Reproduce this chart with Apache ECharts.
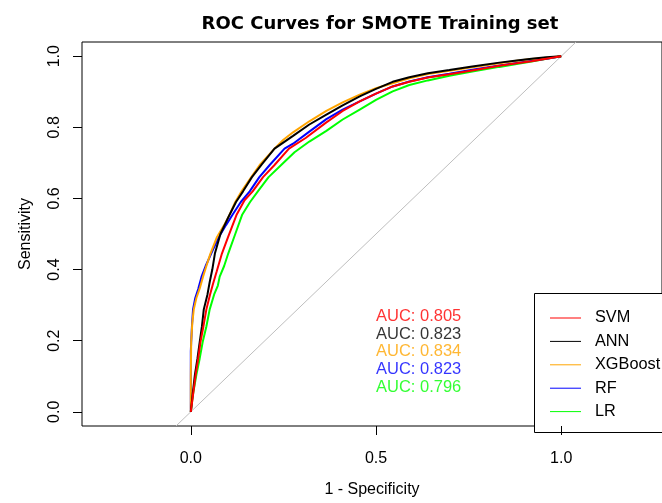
<!DOCTYPE html>
<html>
<head>
<meta charset="utf-8">
<script src="https://cdn.jsdelivr.net/npm/echarts@6/dist/echarts.min.js"></script>
<style>
html,body{margin:0;padding:0;background:#fff;}
#chart{width:662px;height:503px;}
</style>
</head>
<body>
<div id="chart"></div>
<script>
// ---- data (1 - specificity, sensitivity) ----
var modelNames = ['SVM', 'ANN', 'XGBoost', 'RF', 'LR'];
var modelColors = ['#ff0000', '#000000', '#ffa500', '#0000ff', '#00ff00'];
var aucValues = [0.805, 0.823, 0.834, 0.823, 0.796];

var rocSVM = [[0,0],[0.005,0.04],[0.013,0.104],[0.02,0.15],[0.026,0.196],[0.034,0.24],[0.042,0.288],[0.052,0.33],[0.06,0.36],[0.07,0.395],[0.084,0.445],[0.1,0.49],[0.124,0.555],[0.145,0.595],[0.167,0.62],[0.195,0.66],[0.226,0.694],[0.265,0.74],[0.31,0.77],[0.366,0.814],[0.41,0.846],[0.456,0.873],[0.5,0.895],[0.545,0.915],[0.59,0.928],[0.64,0.94],[0.698,0.949],[0.76,0.96],[0.833,0.973],[0.88,0.98],[0.92,0.986],[0.96,0.993],[1,1]];
var rocANN = [[0,0],[0.005,0.05],[0.011,0.104],[0.018,0.15],[0.024,0.196],[0.03,0.24],[0.035,0.288],[0.045,0.33],[0.051,0.365],[0.058,0.4],[0.065,0.445],[0.08,0.5],[0.105,0.555],[0.122,0.59],[0.141,0.62],[0.165,0.66],[0.19,0.694],[0.226,0.74],[0.276,0.776],[0.32,0.808],[0.366,0.836],[0.41,0.862],[0.456,0.887],[0.5,0.908],[0.545,0.928],[0.59,0.941],[0.64,0.952],[0.698,0.961],[0.76,0.971],[0.833,0.982],[0.88,0.988],[0.92,0.993],[0.96,0.997],[1,1]];
var rocXGB = [[0,0],[0,0.1],[0.001,0.196],[0.004,0.25],[0.008,0.288],[0.015,0.32],[0.025,0.35],[0.033,0.38],[0.042,0.41],[0.053,0.445],[0.07,0.49],[0.09,0.525],[0.105,0.555],[0.12,0.59],[0.137,0.62],[0.16,0.655],[0.186,0.694],[0.226,0.74],[0.25,0.765],[0.276,0.786],[0.32,0.817],[0.366,0.846],[0.41,0.87],[0.456,0.892],[0.5,0.91],[0.545,0.924],[0.59,0.938],[0.64,0.95],[0.698,0.959],[0.76,0.969],[0.833,0.98],[0.88,0.987],[0.92,0.992],[0.96,0.996],[1,1]];
var rocRF = [[0,0],[0,0.17],[0.001,0.196],[0.003,0.24],[0.006,0.288],[0.012,0.32],[0.02,0.345],[0.029,0.38],[0.04,0.41],[0.055,0.445],[0.075,0.49],[0.095,0.525],[0.113,0.555],[0.135,0.59],[0.159,0.62],[0.185,0.66],[0.213,0.694],[0.253,0.74],[0.276,0.754],[0.32,0.788],[0.366,0.823],[0.41,0.85],[0.456,0.873],[0.5,0.895],[0.545,0.915],[0.59,0.929],[0.64,0.941],[0.698,0.951],[0.76,0.962],[0.833,0.974],[0.88,0.981],[0.92,0.987],[0.96,0.993],[1,1]];
var rocLR = [[0,0],[0.006,0.05],[0.015,0.104],[0.024,0.15],[0.032,0.196],[0.042,0.24],[0.051,0.288],[0.063,0.33],[0.073,0.355],[0.078,0.38],[0.09,0.41],[0.101,0.445],[0.12,0.5],[0.139,0.555],[0.16,0.59],[0.181,0.62],[0.21,0.66],[0.244,0.694],[0.28,0.73],[0.32,0.76],[0.366,0.79],[0.41,0.822],[0.456,0.85],[0.5,0.877],[0.545,0.901],[0.59,0.919],[0.64,0.932],[0.698,0.945],[0.76,0.957],[0.833,0.97],[0.88,0.978],[0.92,0.985],[0.96,0.993],[1,1]];
var rocData = [rocSVM, rocANN, rocXGB, rocRF, rocLR];
var drawOrder = [6, 5, 4, 3, 2];

var diagonal = [[-0.04,-0.04],[1.04,1.04]];
var xTicks = [0, 0.5, 1];
var yTicks = [0, 0.2, 0.4, 0.6, 0.8, 1];
var aucTextX = 0.5;
var aucTextY = [0.28, 0.23, 0.18, 0.13, 0.08];

var FONT = 'Liberation Sans, Arial, sans-serif';
var LINE_ICON = 'path://M0,0H31V1H0Z';

var series = [];
series.push({
  name: 'diag', type: 'line', data: diagonal, symbol: 'none', silent: true, z: 1,
  lineStyle: {color: '#bebebe', width: 1}, animation: false
});
for (var i = 0; i < modelNames.length; i++) {
  series.push({
    name: modelNames[i], type: 'line', data: rocData[i], symbol: 'none',
    z: drawOrder[i], animation: false,
    lineStyle: {color: modelColors[i], width: 2}, itemStyle: {color: modelColors[i]}
  });
}
var aucPoints = [];
for (var j = 0; j < aucValues.length; j++) {
  aucPoints.push({
    value: [aucTextX, aucTextY[j]],
    label: {color: modelColors[j], formatter: 'AUC: ' + aucValues[j].toFixed(3)}
  });
}
series.push({
  name: 'auc', type: 'scatter', data: aucPoints, symbolSize: 0, silent: true, z: 10,
  animation: false,
  label: {show: true, position: 'right', distance: 0, offset: [0, 4],
    fontSize: 16.5, fontFamily: FONT}
});

var legendData = modelNames.map(function (n) { return {name: n, icon: LINE_ICON}; });

var option = {
  backgroundColor: '#ffffff',
  animation: false,
  title: {
    text: 'ROC Curves for SMOTE Training set',
    left: 375, top: 10, textAlign: 'center',
    textStyle: {fontFamily: 'DejaVu Sans, sans-serif', fontWeight: 'bold', fontSize: 18, color: '#000'}
  },
  legend: {
    data: legendData,
    orient: 'vertical',
    left: 534, top: 293,
    itemWidth: 31, itemHeight: 14, itemGap: 7.4,
    symbolKeepAspect: true,
    padding: [17, 4, 12, 16],
    borderWidth: 0,
    textStyle: {fontFamily: FONT, fontSize: 16.3, lineHeight: 16, color: '#000', padding: [0,0,0,9]},
    selectedMode: false
  },
  graphic: [{
    type: 'rect', left: 534, top: 293, z: 0, silent: true,
    shape: {width: 200, height: 139},
    style: {fill: '#fff', stroke: '#000', lineWidth: 1}
  }],
  grid: {
    left: 82, top: 42, width: 581, height: 390,
    show: true, borderColor: '#000', borderWidth: 1, backgroundColor: 'transparent'
  },
  xAxis: {
    type: 'value', min: -0.2938, max: 1.2722,
    name: '1 - Specificity', nameLocation: 'middle', nameGap: 56,
    nameTextStyle: {fontFamily: FONT, fontSize: 16, color: '#000'},
    axisLine: {show: false, onZero: false},
    axisTick: {show: true, customValues: xTicks, length: 9, lineStyle: {color: '#000'}},
    axisLabel: {customValues: xTicks, margin: 25, fontFamily: FONT, fontSize: 16, color: '#000',
      formatter: function (v) { return v.toFixed(1); }},
    splitLine: {show: false}
  },
  yAxis: {
    type: 'value', min: -0.04, max: 1.04,
    name: 'Sensitivity', nameLocation: 'middle', nameGap: 48, nameRotate: 90,
    nameTextStyle: {fontFamily: FONT, fontSize: 16, color: '#000'},
    axisLine: {show: false, onZero: false},
    axisTick: {show: true, customValues: yTicks, length: 9, lineStyle: {color: '#000'}},
    axisLabel: {customValues: yTicks, margin: 19, rotate: 90, fontFamily: FONT, fontSize: 16, color: '#000',
      formatter: function (v) { return v.toFixed(1); }},
    splitLine: {show: false}
  },
  series: series
};

var chart = echarts.init(document.getElementById('chart'), null, {renderer: 'canvas'});
chart.setOption(option);
</script>
</body>
</html>
